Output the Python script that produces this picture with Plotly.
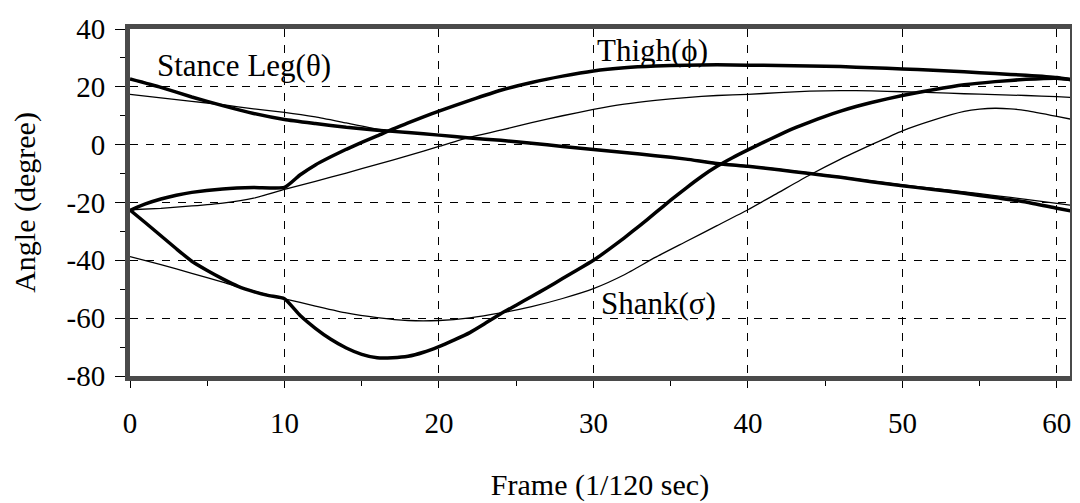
import plotly.graph_objects as go

# ---- data ----
stance_thick_x = [0, 2, 4, 6, 8, 10, 12, 14, 16, 18, 20, 22, 24, 26, 28, 30, 32, 34, 36, 38, 40, 42, 44, 46, 48, 50, 52, 54, 56, 58, 60, 61]
stance_thick_y = [22.7, 19.8, 16.5, 13.5, 10.8, 8.7, 7.3, 6.0, 5.0, 4.2, 3.3, 2.3, 1.5, 0.5, -0.6, -1.7, -2.7, -3.8, -5.0, -6.5, -7.5, -8.7, -10.0, -11.3, -12.8, -14.2, -15.5, -16.8, -18.3, -19.8, -22.0, -23.0]

stance_thin_x = [0, 2, 4, 6, 8, 10, 12, 14, 16, 18, 20, 22, 24, 26, 28, 30, 32, 34, 36, 38, 40, 42, 44, 46, 48, 50, 52, 54, 56, 58, 60, 61]
stance_thin_y = [17.4, 16.2, 15.0, 13.8, 12.4, 11.2, 9.6, 7.5, 5.4, 4.3, 3.4, 2.4, 1.6, 0.6, -0.5, -1.6, -2.6, -3.7, -4.9, -6.3, -7.3, -8.5, -9.8, -11.1, -12.5, -13.9, -15.1, -16.3, -17.6, -18.9, -20.3, -21.0]

thigh_thick_x = [0, 1, 2, 3, 4, 6, 8, 10, 11, 12, 13, 14, 15, 16, 17, 18, 19, 20, 22, 24, 26, 28, 30, 32, 34, 36, 38, 40, 42, 44, 46, 48, 50, 52, 54, 56, 58, 60, 61]
thigh_thick_y = [-22.7, -20.5, -18.8, -17.5, -16.5, -15.3, -14.8, -14.8, -10.5, -7.0, -4.2, -1.6, 0.8, 3.0, 5.4, 7.5, 9.6, 11.6, 15.3, 18.8, 21.5, 23.7, 25.5, 26.6, 27.2, 27.5, 27.6, 27.5, 27.4, 27.2, 27.0, 26.6, 26.2, 25.7, 25.2, 24.6, 24.0, 23.2, 22.4]

thigh_thin_x = [0, 2, 4, 6, 8, 10, 12, 14, 16, 18, 20, 22, 24, 26, 28, 30, 32, 34, 36, 38, 40, 42, 44, 46, 48, 50, 52, 54, 56, 58, 60, 61]
thigh_thin_y = [-22.5, -22.0, -21.2, -20.2, -18.5, -15.5, -12.7, -9.8, -6.8, -3.8, -0.6, 2.6, 5.0, 7.6, 10.0, 12.2, 14.0, 15.3, 16.3, 17.0, 17.4, 18.0, 18.5, 18.7, 18.6, 18.3, 18.0, 17.6, 17.3, 17.0, 16.6, 16.3]

shank_thick_x = [0, 1, 2, 3, 4, 5, 6, 7, 8, 9, 10, 11, 12, 13, 14, 15, 16, 17, 18, 19, 20, 21, 22, 23, 24, 25, 26, 27, 28, 29, 30, 31, 32, 33, 34, 35, 36, 37, 38, 39, 40, 41, 42, 43, 44, 45, 46, 47, 48, 50, 52, 54, 56, 58, 60, 61]
shank_thick_y = [-22.6, -27.0, -31.5, -36.0, -40.3, -43.5, -46.4, -49.0, -50.8, -52.2, -53.3, -59.0, -63.5, -67.3, -70.3, -72.5, -73.7, -73.7, -73.2, -71.8, -69.8, -67.5, -65.0, -61.8, -58.5, -55.5, -52.5, -49.5, -46.3, -43.2, -40.0, -36.2, -32.2, -28.0, -23.6, -19.2, -15.0, -11.0, -7.5, -4.5, -1.8, 0.8, 3.3, 5.7, 7.8, 9.8, 11.6, 13.2, 14.6, 17.0, 19.0, 20.7, 21.8, 22.6, 23.0, 22.4]

shank_thin_x = [0, 2, 4, 6, 7, 8, 9, 10, 12, 14, 16, 18, 20, 22, 24, 26, 28, 30, 32, 34, 36, 38, 40, 42, 44, 46, 48, 50, 52, 54, 55, 56, 57, 58, 60, 61]
shank_thin_y = [-38.7, -41.5, -44.5, -47.5, -49.2, -50.6, -52.0, -53.3, -55.8, -58.2, -59.8, -60.8, -60.8, -59.9, -58.2, -56.0, -53.2, -49.8, -45.0, -39.0, -33.5, -28.0, -22.5, -16.5, -10.5, -5.0, 0.0, 4.8, 8.5, 11.5, 12.3, 12.6, 12.4, 11.8, 9.8, 8.7]

x_ticks = [0, 10, 20, 30, 40, 50, 60]
y_ticks = [-80, -60, -40, -20, 0, 20, 40]

labels = [("Stance Leg(θ)", 7.4, 27.5), ("Thigh(ϕ)", 33.8, 32.5), ("Shank(σ)", 34.2, -55.0)]

FONT = "Liberation Serif"

fig = go.Figure()
series = [
    (stance_thick_x, stance_thick_y, 3.5),
    (stance_thin_x, stance_thin_y, 1.3),
    (thigh_thick_x, thigh_thick_y, 3.5),
    (thigh_thin_x, thigh_thin_y, 1.3),
    (shank_thick_x, shank_thick_y, 3.5),
    (shank_thin_x, shank_thin_y, 1.3),
]
for xs, ys, w in series:
    fig.add_trace(go.Scatter(x=xs, y=ys, mode="lines",
                             line=dict(color="black", width=w, shape="spline", smoothing=0.5),
                             showlegend=False, hoverinfo="skip"))

for text, x, y in labels:
    fig.add_annotation(x=x, y=y, text=text, showarrow=False,
                       font=dict(family=FONT, size=31, color="black"))

# the page body has an 8px margin, so the figure is sized and offset to fit
fig.update_layout(
    width=1072, height=495,
    margin=dict(l=122, r=5, t=12, b=125),
    paper_bgcolor="white", plot_bgcolor="white",
    font=dict(family=FONT, size=29, color="black"),
)
fig.update_xaxes(
    range=[0, 60.85], tickvals=x_ticks, ticktext=[str(v) for v in x_ticks],
    tickfont=dict(family=FONT, size=29, color="black"),
    ticklabeloverflow="allow",
    showgrid=True, gridcolor="black", gridwidth=1.2, griddash="8px,8px",
    showline=True, linecolor="#4a4a4a", linewidth=5, mirror=True,
    ticks="outside", ticklen=7, tickcolor="black", tickwidth=1.2,
    minor=dict(dtick=5, tick0=0, ticks="outside", ticklen=5, tickcolor="black", showgrid=False),
    ticklabelstandoff=10, zeroline=False,
    title=dict(text="Frame (1/120 sec)", font=dict(family=FONT, size=30), standoff=38),
)
fig.update_yaxes(
    range=[-80, 40], tickvals=y_ticks, ticktext=[str(v) for v in y_ticks],
    tickfont=dict(family=FONT, size=29, color="black"),
    ticklabeloverflow="allow",
    showgrid=True, gridcolor="black", gridwidth=1.2, griddash="8px,8px",
    showline=True, linecolor="#4a4a4a", linewidth=5, mirror=True,
    ticks="outside", ticklen=10, tickcolor="black", tickwidth=1.2,
    minor=dict(dtick=10, tick0=0, ticks="outside", ticklen=5, tickcolor="black", showgrid=False),
    ticklabelstandoff=4, zeroline=False,
    title=dict(text="Angle (degree)", font=dict(family=FONT, size=30), standoff=26),
)

fig.write_html("out.html")
